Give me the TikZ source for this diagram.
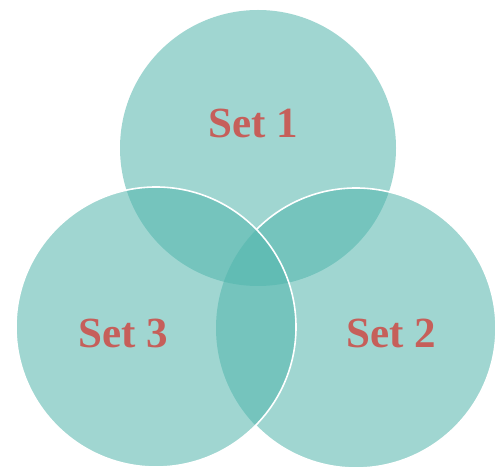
\documentclass[tikz,border=0pt]{standalone}
\usepackage{fontspec}
\setmainfont{Liberation Serif}
\usetikzlibrary{positioning}
\definecolor{setfill}{HTML}{52B6AD}
\definecolor{settext}{HTML}{C65F5A}
\tikzset{
  setc/.style={circle,fill=setfill,fill opacity=0.55,minimum size=280pt,inner sep=0pt},
  setline/.style={draw=white,line width=1.6pt},
  setlabel/.style={text=settext,font=\bfseries\fontsize{43}{43}\selectfont,inner sep=0pt},
}

\begin{document}
\begin{tikzpicture}[x=1pt,y=1pt]
  \useasboundingbox[fill=white] (0,0) rectangle (495,471);
  % the three sets, bottom one first
  \node[setc,minimum size=276pt] (c1) at (258,323) {};
  \node[setc] (c2) at (356,143) {};
  \begin{scope}[even odd rule]
    \clip (0,0) rectangle (495,471) (156,144) circle[radius=140];
    \draw[setline] (356,143) circle[radius=140];
  \end{scope}
  \node[setc] (c3) at (156,144) {};
  \draw[setline] (156,144) circle[radius=140];
  % labels
  \node[setlabel] (l1) at (253,348) {Set 1};
  \node[setlabel] (l3) at (123,138) {Set 3};
  \node[setlabel] (l2) at (391,138) {Set 2};
\end{tikzpicture}
\end{document}
